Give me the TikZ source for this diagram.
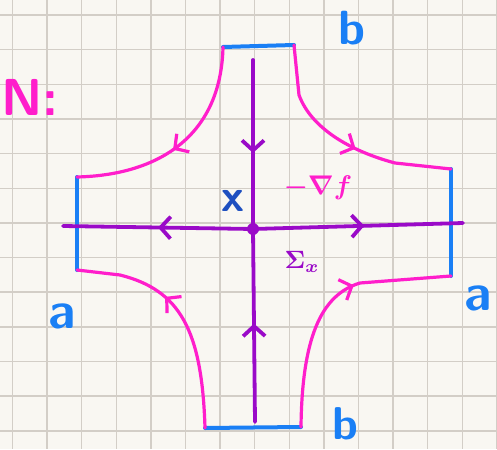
\documentclass[tikz,border=0pt]{standalone}
\usetikzlibrary{arrows.meta,decorations.markings}
\definecolor{hotpink}{HTML}{FF1ECB}
\definecolor{penblue}{HTML}{1A7FF5}
\definecolor{penpurple}{HTML}{9A0AC8}
\definecolor{inkblue}{HTML}{1E4FC0}
\definecolor{paper}{HTML}{F9F7F2}
\definecolor{gridgray}{HTML}{D3CEC7}

\begin{document}
\begin{tikzpicture}[
			x=1pt,y=-1pt,
			every node/.style={inner sep=0pt},
			pen/.style={line width=#1,line cap=round,line join=round},
			flow/.style={pen=3.2pt,draw=hotpink},
			edge/.style={pen=4pt,draw=penblue},
			axis/.style={pen=3.8pt,draw=penpurple},
			tip at/.style={postaction={decorate,decoration={markings,
				mark=at position #1 with {\arrow{Straight Barb[length=10pt,width=22pt]}}}}},
			lbl/.style={font=\fontsize{#1}{#1}\selectfont\sffamily\bfseries}
			]
			% paper
			\useasboundingbox (0,0) rectangle (497,449);
			\fill[paper] (0,0) rectangle (497,449);
			\foreach \k in {0,...,14}
				\draw[gridgray,line width=1.5pt] ({12.5+34.6*\k},0) -- ({12.5+34.6*\k},449);
			\foreach \k in {0,...,12}
				\draw[gridgray,line width=1.5pt] (0,{15+34.65*\k}) -- (497,{15+34.65*\k});
			% boundary pieces a and b
			\coordinate (btl) at (223,47);
			\coordinate (btr) at (294,45);
			\coordinate (alt) at (77,177);
			\coordinate (alb) at (77,270);
			\coordinate (art) at (451,169);
			\coordinate (arb) at (451,276);
			\coordinate (bbl) at (205,428);
			\coordinate (bbr) at (301,427);
			\draw[edge] (btl) -- (btr);
			\draw[edge] (alt) -- (alb);
			\draw[edge] (art) -- (arb);
			\draw[edge] (bbl) -- (bbr);
			% flow lines
			\draw[flow,tip at=0.54] (btl) .. controls (221,135) and (160,175) .. (alt);
			\draw[flow,tip at=0.57] (btr) -- (299,95) .. controls (311,128) and (350,151) .. (395,163) -- (art);
			\draw[flow,tip at=0.6] (bbl) .. controls (202,330) and (180,290) .. (120,275) -- (alb);
			\draw[flow,tip at=0.62] (bbr) .. controls (302,340) and (320,295) .. (360,283) -- (arb);
			% stable and unstable directions
			\coordinate (xc) at (253,229);
			\coordinate (hl) at (63,226);
			\coordinate (hr) at (463,223);
			\coordinate (vt) at (253,60);
			\coordinate (vb) at (255,422);
			\draw[axis,tip at=0.5] (xc) -- (hl);
			\draw[axis,tip at=0.53] (xc) -- (hr);
			\draw[axis,tip at=0.55] (vt) -- (xc);
			\draw[axis,tip at=0.51] (vb) -- (xc);
			\fill[penpurple] (xc) circle (6pt);
			% labels
			\node[lbl=52,text=hotpink] (nlab) at (30,97) {N:};
			\node[lbl=48,text=penblue] (btop) at (352,28) {b};
			\node[lbl=46,text=penblue] (bbot) at (345,424) {b};
			\node[lbl=52,text=penblue] (aleft) at (62,316) {a};
			\node[lbl=52,text=penblue] (aright) at (478,298) {a};
			\node[lbl=46,text=inkblue] (xlab) at (233,201) {x};
			\node[text=hotpink] (grad) at (318,188) {\scalebox{2.7}{\boldmath$-\nabla f$}};
			\node[text=penpurple] (sig) at (302,262) {\scalebox{2.5}{\boldmath$\Sigma_x$}};
		\end{tikzpicture}
\end{document}
